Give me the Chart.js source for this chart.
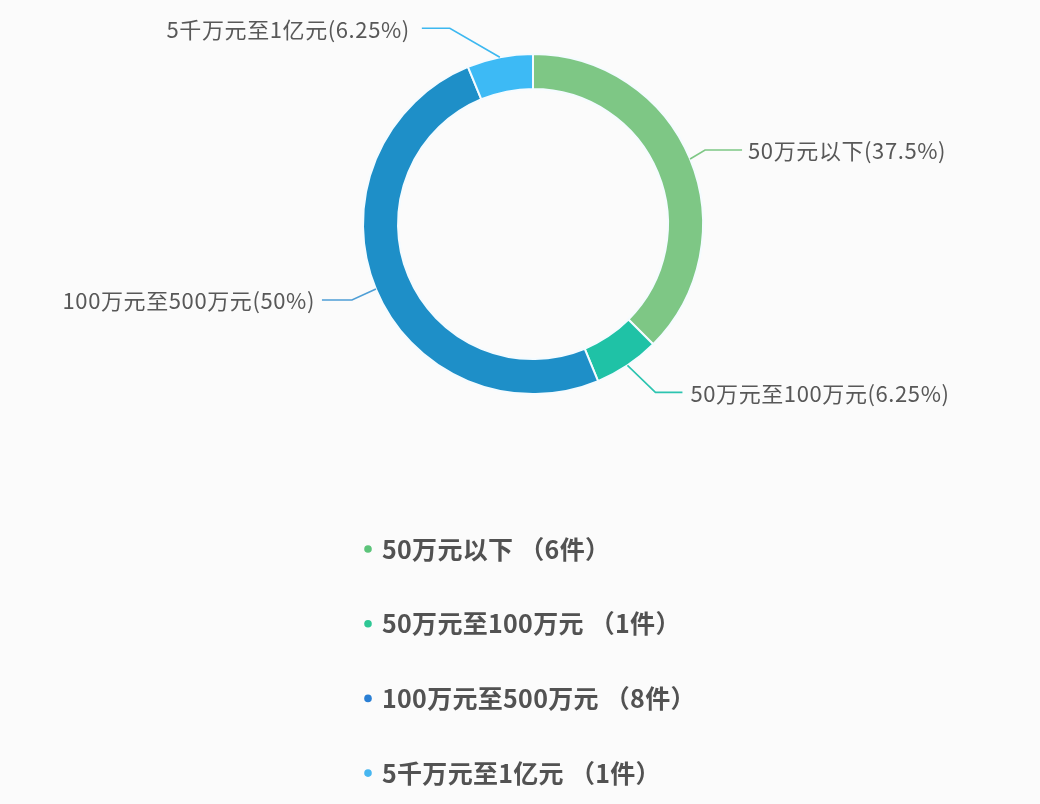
<!DOCTYPE html>
<html>
<head>
<meta charset="utf-8">
<script src="https://cdn.jsdelivr.net/npm/chart.js@4.4.1/dist/chart.umd.min.js"></script>
<style>
html,body{margin:0;padding:0;background:#fbfbfb;}
#wrap{width:1040px;height:804px;position:relative;}
</style>
</head>
<body>
<div id="wrap"><canvas id="c" width="1040" height="804"></canvas></div>
<script>
const categories = ['50万元以下', '50万元至100万元', '100万元至500万元', '5千万元至1亿元'];
const counts = [6, 1, 8, 1];
const colors = ['#7ec785', '#1fc2a6', '#1e8fc8', '#3dbaf5'];
const lineColors = ['#7ec785', '#2cc4b0', '#4f9fd6', '#3db8f0'];
const dotColors = ['#5cc47a', '#2ec795', '#2a7fd4', '#47b6f0'];

// label leader-line layout (style only): elbow offset from arc edge, horizontal length, side, text gap
const labelLayout = [
  {dx: 15, dy: -9, h: 37, side: 1, gap: 6},
  {dx: 28, dy: 27, h: 27, side: 1, gap: 8},
  {dx: -24, dy: 11, h: 30, side: -1, gap: 7},
  {dx: -50, dy: -29, h: 28, side: -1, gap: 12}
];

const total = counts.reduce((a, b) => a + b, 0);
const pctText = v => (Math.round(v / total * 10000) / 100) + '%';

const FONT = '"Noto Sans CJK SC", "Noto Sans", sans-serif';

const labelsPlugin = {
  id: 'outLabels',
  afterDraw(chart) {
    const ctx = chart.ctx;
    const meta = chart.getDatasetMeta(0);
    ctx.save();
    meta.data.forEach((arc, i) => {
      const p = arc.getProps(['x', 'y', 'startAngle', 'endAngle', 'outerRadius'], true);
      const mid = (p.startAngle + p.endAngle) / 2;
      const sx = p.x + Math.cos(mid) * p.outerRadius;
      const sy = p.y + Math.sin(mid) * p.outerRadius;
      const L = labelLayout[i];
      const ex = sx + L.dx, ey = sy + L.dy;
      const hx = ex + L.side * L.h;
      ctx.strokeStyle = lineColors[i];
      ctx.lineWidth = 1.6;
      ctx.beginPath();
      ctx.moveTo(sx, sy);
      ctx.lineTo(ex, ey);
      ctx.lineTo(hx, ey);
      ctx.stroke();
      ctx.font = '22px ' + FONT;
      ctx.letterSpacing = '0.6px';
      ctx.fillStyle = '#585858';
      ctx.textBaseline = 'middle';
      ctx.textAlign = L.side > 0 ? 'left' : 'right';
      ctx.fillText(categories[i] + '(' + pctText(counts[i]) + ')', hx + L.side * L.gap, ey + 1);
    });
    // legend
    const lx = 368, ly0 = 549, step = 74.7;
    categories.forEach((c, i) => {
      const y = ly0 + i * step;
      ctx.fillStyle = dotColors[i];
      ctx.beginPath();
      ctx.arc(lx, y, 3.8, 0, Math.PI * 2);
      ctx.fill();
      ctx.font = '600 25px ' + FONT;
      ctx.letterSpacing = '0.3px';
      ctx.fillStyle = '#525252';
      ctx.textAlign = 'left';
      ctx.textBaseline = 'middle';
      ctx.fillText(c + ' （' + counts[i] + '件）', 382, y);
    });
    ctx.restore();
  }
};

new Chart(document.getElementById('c'), {
  type: 'doughnut',
  data: {
    labels: categories,
    datasets: [{
      data: counts,
      backgroundColor: colors,
      borderColor: '#f4fbff',
      borderWidth: 2,
      radius: 170,
      cutout: '79.4%'
    }]
  },
  options: {
    responsive: false,
    animation: false,
    layout: {padding: {left: 26, right: 0, top: 0, bottom: 356}},
    plugins: {legend: {display: false}, tooltip: {enabled: false}}
  },
  plugins: [labelsPlugin]
});
</script>
</body>
</html>
